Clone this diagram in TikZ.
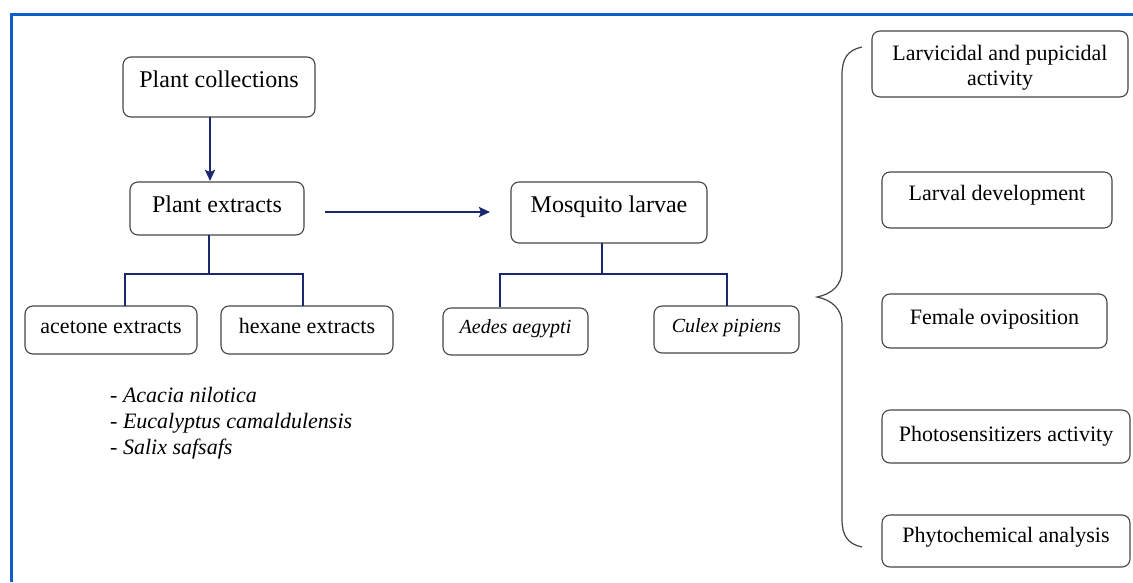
\documentclass[tikz,border=0pt]{standalone}
\usepackage{fontspec}
\setmainfont{Liberation Serif}
\usetikzlibrary{arrows.meta,calc}
\definecolor{navy}{RGB}{28,40,110}
\definecolor{frameblue}{RGB}{12,94,200}
\definecolor{boxgray}{RGB}{70,70,70}
\newcommand{\fs}{\fontsize{22}{25}\selectfont}
\newcommand{\fl}{\fontsize{24}{27}\selectfont}
\newcommand{\fsm}{\fontsize{20}{24}\selectfont}
\begin{document}
\begin{tikzpicture}[x=1pt,y=-1pt,
  box/.style={draw=boxgray, line width=1.1pt, rounded corners=8pt, inner sep=0pt,
    align=center, text height=15pt, text depth=5pt, font=\fs},
  conn/.style={draw=navy, line width=2.2pt},
  arr/.style={conn, -{Stealth[length=11pt,width=10pt,inset=2pt]}},
  brace/.style={draw=boxgray, line width=1.2pt},
  frame/.style={draw=frameblue, line width=3pt},
  species/.style={anchor=base west, inner sep=0pt, font=\fs}
]
\useasboundingbox (0,0) rectangle (1133,582);
\fill[white] (0,0) rectangle (1133,582);
% frame
\draw[frame] (11,582) -- (11,14) -- (1133,14);

% left tree
\node[box, font=\fl, minimum width=192pt, minimum height=60pt, text depth=14.4pt] (pc) at (219,87) {Plant collections};
\node[box, font=\fl, minimum width=174pt, minimum height=53pt, text depth=6.4pt] (pe) at (217,208.5) {Plant extracts};
\node[box, minimum width=172pt, minimum height=48pt, text depth=7.5pt] (ac) at (111,330) {acetone extracts};
\node[box, minimum width=172pt, minimum height=48pt, text depth=7.5pt] (hx) at (307,330) {hexane extracts};

\node[species] (s1) at (110,402) {- \textit{Acacia nilotica}};
\node[species] (s2) at (110,428) {- \textit{Eucalyptus camaldulensis}};
\node[species] (s3) at (110,454) {- \textit{Salix safsafs}};

% middle tree
\node[box, font=\fl, minimum width=196pt, minimum height=61pt, text depth=14.4pt] (ml) at (609,212.5) {Mosquito larvae};
\node[box, font=\fsm, minimum width=145pt, minimum height=47pt, text depth=11.7pt] (ae) at (515.5,331.5) {\textit{Aedes aegypti}};
\node[box, font=\fsm, minimum width=145pt, minimum height=47pt, text depth=8.7pt] (cu) at (726.5,329.5) {\textit{Culex pipiens}};

% right column
\node[box, text height=, text depth=, minimum width=256pt, minimum height=66pt] (lv) at (1000,64) {\rule{0pt}{22pt}Larvicidal and pupicidal\\activity};
\node[box, minimum width=230pt, minimum height=56pt, text depth=13.5pt] (ld) at (997,200) {Larval development};
\node[box, minimum width=225pt, minimum height=54pt, text depth=7.5pt] (fo) at (994.5,321) {Female oviposition};
\node[box, minimum width=248pt, minimum height=53pt] (ps) at (1006,436.5) {Photosensitizers activity};
\node[box, minimum width=248pt, minimum height=52pt, text depth=11.5pt] (pa) at (1006,541) {Phytochemical analysis};

% connectors
\coordinate (pcout) at (210,117);
\coordinate (pein) at (210,181);
\draw[arr] (pcout) -- (pein);
\coordinate (pe2) at (325,212);
\coordinate (ml2) at (490,212);
\draw[arr] (pe2) -- (ml2);

\coordinate (peb) at (209,235);
\coordinate (acT) at (125,306);
\coordinate (hxT) at (303,306);
\draw[conn] (peb) -- (209,274);
\draw[conn] (acT) |- (209,274) -| (hxT);

\coordinate (mlb) at (602,243);
\coordinate (aeT) at (500,307);
\coordinate (cuT) at (727,306);
\draw[conn] (mlb) -- (602,274);
\draw[conn] (aeT) |- (602,274) -| (cuT);

% brace
\draw[brace] (862,47) .. controls (848,50) and (842,58) .. (842,75)
  -- (842,270) .. controls (842,285) and (832,294) .. (817,297)
  .. controls (832,300) and (842,309) .. (842,324)
  -- (842,519) .. controls (842,536) and (848,544) .. (862,547);
\end{tikzpicture}
\end{document}
